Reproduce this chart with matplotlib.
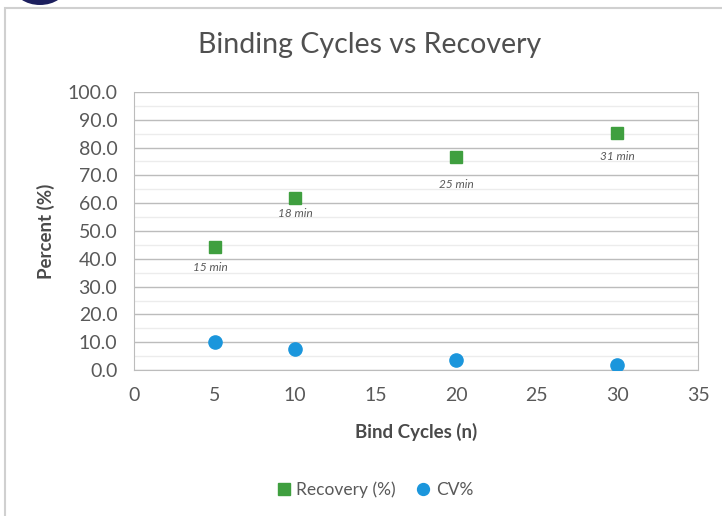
import matplotlib
matplotlib.use("Agg")
import matplotlib.pyplot as plt
from matplotlib.patches import Circle, Rectangle
from matplotlib.ticker import MultipleLocator

cycles = [5, 10, 20, 30]
recovery = [44.2, 62.0, 76.6, 85.3]
cv = [10.2, 7.6, 3.6, 1.9]
time_labels = ["15 min", "18 min", "25 min", "31 min"]

plt.rcParams['font.family'] = ['Lato', 'DejaVu Sans']
grey = '#595959'

fig = plt.figure(figsize=(7.22, 5.16), dpi=100)
fig.patch.set_facecolor('white')

# outer frame and decorative circle
fig.add_artist(Rectangle((5/722, -0.01), 1.0, 1 - 8/516 + 0.01, transform=fig.transFigure,
                         fill=False, edgecolor='#d0d0d0', linewidth=1.5))
fig.add_artist(Circle((40/722, 1 + 14/516), 19/516, transform=fig.transFigure,
                      facecolor='#1c1f5e', edgecolor='none'))

ax = fig.add_axes([134/722, 1 - 370/516, (698 - 134)/722, (370 - 92)/516])
ax.set_xlim(0, 35)
ax.set_ylim(0, 100)
ax.xaxis.set_major_locator(MultipleLocator(5))
ax.yaxis.set_major_locator(MultipleLocator(10))
ax.yaxis.set_minor_locator(MultipleLocator(5))
ax.grid(axis='y', which='major', color='#bcbcbc', linewidth=1.0)
ax.grid(axis='y', which='minor', color='#ececec', linewidth=1.0)
ax.set_axisbelow(True)
for s in ['left', 'right', 'bottom']:
    ax.spines[s].set_color('#bcbcbc')
ax.spines['top'].set_visible(False)
ax.tick_params(axis='both', which='both', length=0, colors=grey, labelsize=14)
ax.tick_params(axis='y', pad=12)
ax.tick_params(axis='x', pad=12)
ax.set_yticklabels([f"{v:.1f}" for v in ax.get_yticks()])

ax.plot(cycles, recovery, linestyle='none', marker='s', markersize=9,
        color='#3f9f3f', label='Recovery (%)', zorder=3)
ax.plot(cycles, cv, linestyle='none', marker='o', markersize=9.5,
        color='#1b96dc', label='CV%', zorder=3)

label_offsets = [(-3, -15), (0, -11.5), (0, -19.5), (0, -17.3)]
for x, y, t, off in zip(cycles, recovery, time_labels, label_offsets):
    ax.annotate(t, (x, y), xytext=off, textcoords='offset points',
                ha='center', va='center', fontsize=8.5, style='italic', color='#595959')

ax.set_xlabel('Bind Cycles (n)', fontsize=13.5, color='#4a4a4a', labelpad=14, fontweight='bold')
ax.set_ylabel('Percent (%)', fontsize=13.5, color='#4a4a4a', labelpad=9, fontweight='bold')

fig.text(370/722, 1 - 45/516, 'Binding Cycles vs Recovery', ha='center', va='center',
         fontsize=20.5, color='#505050')

leg = fig.legend(loc='center', bbox_to_anchor=(375/722, 1 - 490/516), ncol=2, frameon=False,
                 fontsize=12.5, handlelength=0.8, handletextpad=0.3, columnspacing=1.2,
                 markerscale=0.9)
for t in leg.get_texts():
    t.set_color(grey)

fig.savefig('out.png', dpi=100)
